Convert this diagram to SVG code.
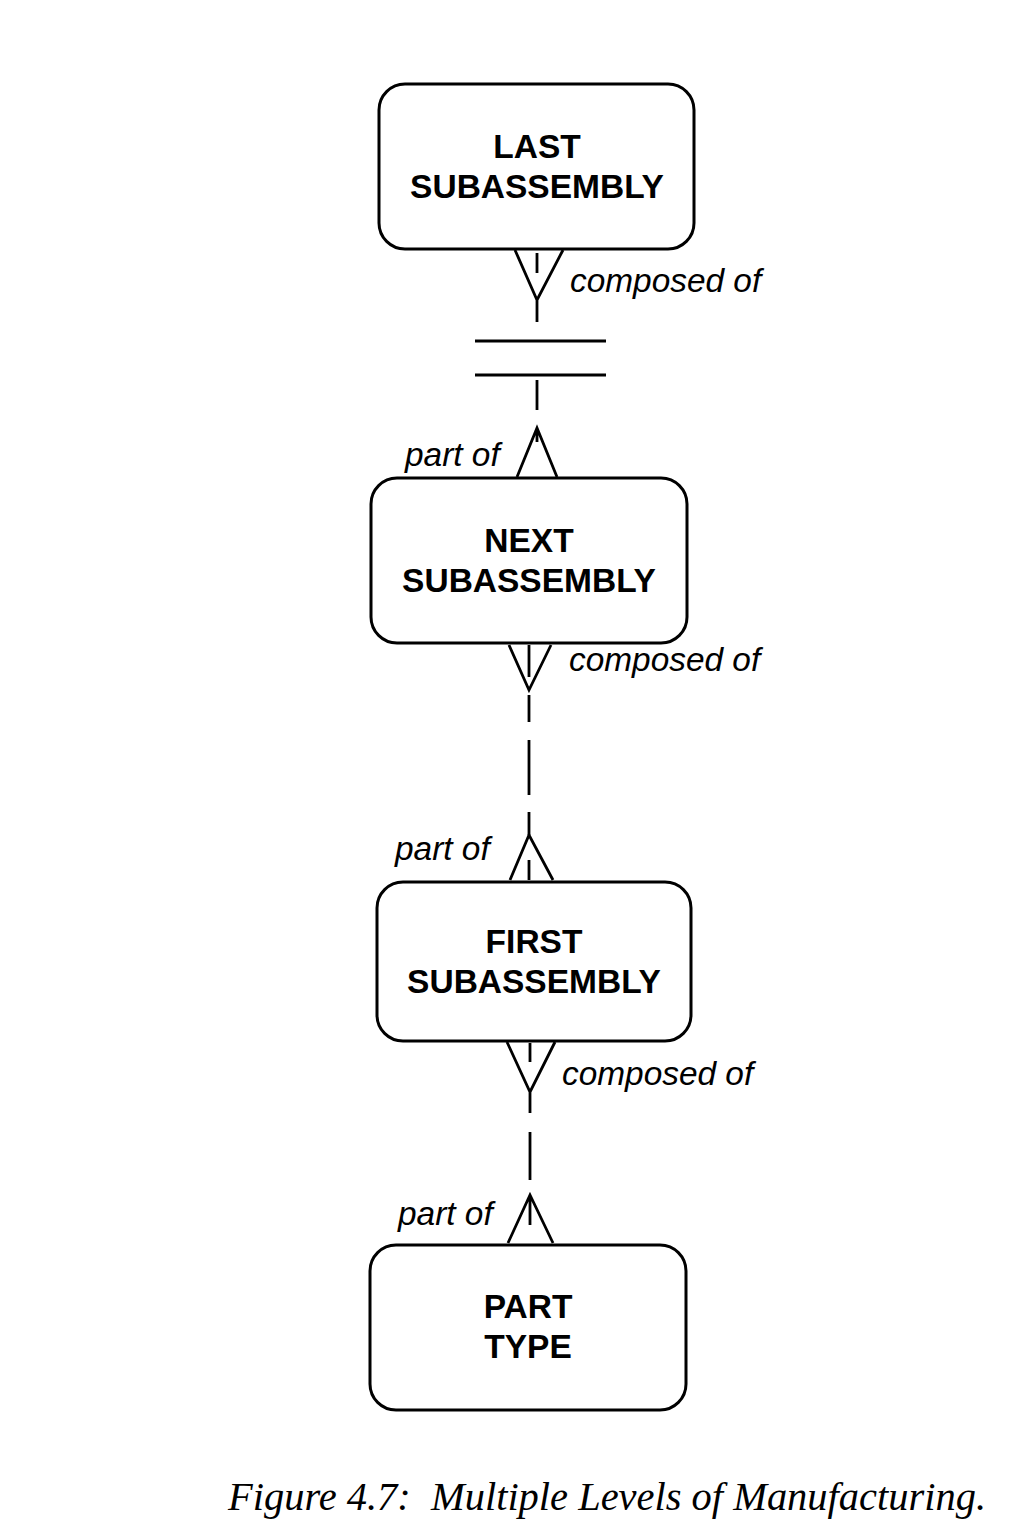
<svg xmlns="http://www.w3.org/2000/svg" width="1010" height="1538" viewBox="0 0 1010 1538">
<style>
.box{fill:#fff;stroke:#000;stroke-width:3}
.lbl{font-family:"Liberation Sans",Arial,sans-serif;font-weight:bold;font-size:33.5px;text-anchor:middle;fill:#000}
.rel{font-family:"Liberation Sans",Arial,sans-serif;font-style:italic;font-size:33.4px;fill:#000}
.ln{fill:none;stroke:#000;stroke-width:2.8}
.cap{font-family:"Liberation Serif","Times New Roman",serif;font-style:italic;font-size:40px;fill:#000}
</style>
<rect width="1010" height="1538" fill="#fff"/>
<g id="last-subassembly">
<rect class="box" x="379" y="84" width="315" height="165" rx="26"/>
<text class="lbl" x="537" y="158">LAST</text>
<text class="lbl" x="537" y="198">SUBASSEMBLY</text>
</g>
<g id="next-subassembly">
<rect class="box" x="371" y="478" width="316" height="165" rx="26"/>
<text class="lbl" x="529" y="552">NEXT</text>
<text class="lbl" x="529" y="592">SUBASSEMBLY</text>
</g>
<g id="first-subassembly">
<rect class="box" x="377" y="882" width="314" height="159" rx="26"/>
<text class="lbl" x="534" y="953">FIRST</text>
<text class="lbl" x="534" y="993">SUBASSEMBLY</text>
</g>
<g id="part-type">
<rect class="box" x="370" y="1245" width="316" height="165" rx="26"/>
<text class="lbl" x="528" y="1318">PART</text>
<text class="lbl" x="528" y="1358">TYPE</text>
</g>
<g id="connectors">
<path class="ln" d="M515 250 L537 300 L563 250 M537 253 V273 M537 300 V322"/>
<path class="ln" d="M475 341 H606 M475 375 H606"/>
<path class="ln" d="M537 380 V410"/>
<path class="ln" d="M517 477 L537 428 L557 477 M537 428 V442"/>
<text class="rel" x="570" y="292">composed of</text>
<text class="rel" x="405" y="466">part of</text>
<path class="ln" d="M509 645 L529 690 L551 645 M529 645 V677"/>
<path class="ln" d="M529 695 V722 M529 740 V795 M529 812 V835"/>
<path class="ln" d="M510 880 L529 835 L553 880 M529 860 V880"/>
<text class="rel" x="569" y="671">composed of</text>
<text class="rel" x="395" y="860">part of</text>
<path class="ln" d="M507 1042 L530 1092 L555 1042 M530 1043 V1062 M530 1092 V1113"/>
<path class="ln" d="M530 1132 V1180"/>
<path class="ln" d="M508 1243 L530 1195 L553 1243 M530 1195 V1225"/>
<text class="rel" x="562" y="1085">composed of</text>
<text class="rel" x="398" y="1225">part of</text>
</g>
<text class="cap" x="228" y="1510" textLength="758" lengthAdjust="spacingAndGlyphs">Figure 4.7:&#160; Multiple Levels of Manufacturing.</text>
</svg>
